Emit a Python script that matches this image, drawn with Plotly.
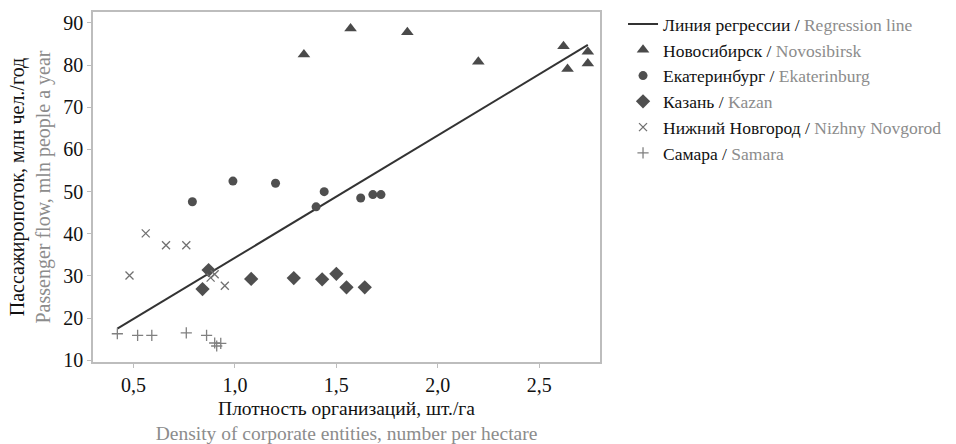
import plotly.graph_objects as go

# Data
nsk_x = [1.34, 1.57, 1.85, 2.20, 2.62, 2.64, 2.74, 2.74]
nsk_y = [82.5, 88.7, 87.8, 80.8, 84.5, 79.1, 83.2, 80.4]

ekb_x = [0.79, 0.99, 1.20, 1.40, 1.44, 1.62, 1.68, 1.72]
ekb_y = [47.6, 52.5, 52.0, 46.4, 50.0, 48.5, 49.3, 49.3]

kzn_x = [0.87, 0.84, 1.08, 1.29, 1.43, 1.50, 1.55, 1.64]
kzn_y = [31.4, 26.9, 29.3, 29.5, 29.2, 30.5, 27.3, 27.3]

nn_x = [0.48, 0.56, 0.66, 0.76, 0.88, 0.90, 0.95]
nn_y = [30.1, 40.1, 37.3, 37.3, 29.6, 30.4, 27.7]

sam_x = [0.42, 0.52, 0.59, 0.76, 0.86, 0.90, 0.91, 0.93]
sam_y = [16.3, 15.9, 15.9, 16.5, 15.9, 14.1, 13.4, 14.0]

reg_x = [0.42, 2.74]
reg_y = [17.5, 84.8]

x_ticks = [0.5, 1.0, 1.5, 2.0, 2.5]
x_tick_labels = ["0,5", "1,0", "1,5", "2,0", "2,5"]
y_ticks = [10, 20, 30, 40, 50, 60, 70, 80, 90]

FONT = "Liberation Serif"
GRAY_TXT = "#8c8c8c"

def lab(ru, en):
    return f"{ru} / <span style='color:{GRAY_TXT}'>{en}</span>"

fig = go.Figure()
fig.add_trace(go.Scatter(x=reg_x, y=reg_y, mode="lines",
                         line=dict(color="#333333", width=2),
                         name=lab("Линия регрессии", "Regression line")))
fig.add_trace(go.Scatter(x=nsk_x, y=nsk_y, mode="markers",
                         marker=dict(symbol="triangle-up", size=11, color="#4a4a4a"),
                         name=lab("Новосибирск", "Novosibirsk")))
fig.add_trace(go.Scatter(x=ekb_x, y=ekb_y, mode="markers",
                         marker=dict(symbol="circle", size=9, color="#4f4f4f"),
                         name=lab("Екатеринбург", "Ekaterinburg")))
fig.add_trace(go.Scatter(x=kzn_x, y=kzn_y, mode="markers",
                         marker=dict(symbol="diamond", size=11, color="#4f4f4f"),
                         name=lab("Казань", "Kazan")))
fig.add_trace(go.Scatter(x=nn_x, y=nn_y, mode="markers",
                         marker=dict(symbol="x-thin", size=8, color="#707070",
                                     line=dict(width=1.3, color="#707070")),
                         name=lab("Нижний Новгород", "Nizhny Novgorod")))
fig.add_trace(go.Scatter(x=sam_x, y=sam_y, mode="markers",
                         marker=dict(symbol="cross-thin", size=8, color="#808080",
                                     line=dict(width=1.3, color="#808080")),
                         name=lab("Самара", "Samara")))

axis_common = dict(showgrid=False, zeroline=False, showline=True, mirror=True,
                   linecolor="#bdbdbd", linewidth=1.5, ticks="outside", ticklen=4,
                   tickcolor="#bdbdbd", automargin=False,
                   tickfont=dict(family=FONT, size=20, color="#111111"))

fig.update_layout(
    width=956, height=444,
    margin=dict(l=93, r=356, t=12, b=82),
    paper_bgcolor="white", plot_bgcolor="white",
    font=dict(family=FONT, color="#111111"),
    showlegend=True,
    legend=dict(xref="container", yref="container", x=0.6517, y=0.986,
                xanchor="left", yanchor="top",
                font=dict(family=FONT, size=17.5, color="#111111"),
                tracegroupgap=0, itemwidth=30, bgcolor="rgba(0,0,0,0)"),
    xaxis=dict(range=[0.30, 2.80], tickvals=x_ticks, ticktext=x_tick_labels,
               title=dict(text="Плотность организаций, шт./га<br>"
                               f"<span style='color:{GRAY_TXT}'>Density of corporate entities, number per hectare</span>",
                          font=dict(family=FONT, size=19.5, color="#111111"), standoff=9),
               **axis_common),
    yaxis=dict(range=[9.6, 92.6], tickvals=y_ticks,
               title=dict(text="Пассажиропоток, млн чел./год<br>"
                               f"<span style='color:{GRAY_TXT}'>Passenger flow, mln people a year</span>",
                          font=dict(family=FONT, size=20, color="#111111"), standoff=7),
               **axis_common),
)

fig.write_html("out.html", config={"displayModeBar": False},
               post_script="document.body.style.margin='0';document.body.style.padding='0';")
